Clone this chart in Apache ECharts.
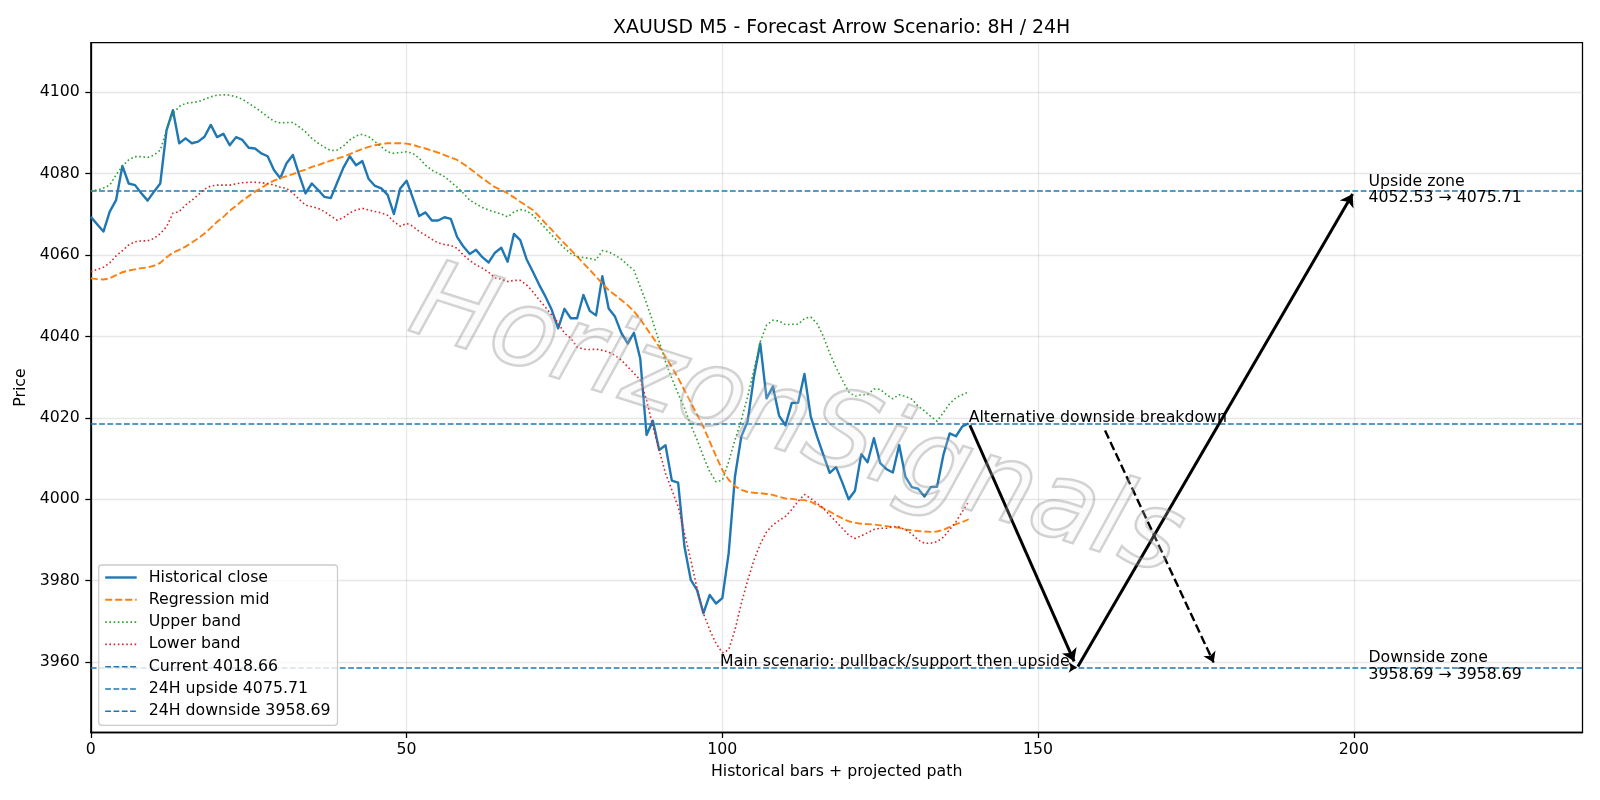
<!DOCTYPE html>
<html>
<head>
<meta charset="utf-8">
<title>XAUUSD M5 - Forecast Arrow Scenario</title>
<script src="https://cdn.jsdelivr.net/npm/echarts@6/dist/echarts.min.js"></script>
<style>
  html, body { margin: 0; padding: 0; background: #fff; }
  #chart { width: 1600px; height: 800px; }
</style>
</head>
<body>
<div id="chart"></div>
<script>
// ---- data (bar index = position in array) ----
const closeValues = [
  4069.4, 4067.6, 4065.8, 4070.7, 4073.5, 4081.9, 4077.6, 4077.2, 4075.2, 4073.4,
  4075.6, 4077.6, 4090.7, 4095.6, 4087.5, 4088.7, 4087.5, 4087.9, 4089.1, 4092.0,
  4089.0, 4089.8, 4087.0, 4089.0, 4088.3, 4086.4, 4086.2, 4085.0, 4084.3, 4080.9,
  4078.9, 4082.6, 4084.6, 4079.7, 4075.2, 4077.6, 4076.0, 4074.3, 4074.0, 4077.8,
  4081.5, 4084.3, 4082.1, 4083.1, 4078.7, 4077.0, 4076.4, 4074.8, 4070.1, 4076.4,
  4078.3, 4074.0, 4069.6, 4070.5, 4068.5, 4068.5, 4069.3, 4068.9, 4064.5, 4062.1,
  4060.3, 4061.3, 4059.5, 4058.2, 4060.6, 4061.8, 4058.4, 4065.2, 4063.7, 4059.0,
  4055.9, 4052.7, 4049.8, 4046.5, 4042.0, 4046.8, 4044.5, 4044.5, 4050.2, 4046.3,
  4045.2, 4054.8, 4046.9, 4044.9, 4040.9, 4038.3, 4040.9, 4034.6, 4015.8, 4019.3,
  4012.1, 4013.3, 4004.6, 4004.1, 3988.4, 3980.2, 3977.7, 3972.0, 3976.5, 3974.4,
  3975.7, 3986.7, 4005.6, 4015.4, 4019.1, 4030.1, 4038.3, 4024.8, 4027.7, 4020.5,
  4018.2, 4023.7, 4023.7, 4030.8, 4020.3, 4015.4, 4010.9, 4006.5, 4007.9, 4004.1,
  4000.0, 4002.1, 4011.1, 4009.1, 4015.0, 4008.9, 4007.4, 4006.6, 4013.3, 4005.5,
  4003.0, 4002.6, 4000.7, 4003.0, 4003.1, 4010.9, 4016.2, 4015.5, 4017.9, 4018.66
]
const midValues = [
  4054.3, 4054.1, 4054.0, 4054.3, 4055.1, 4055.8, 4056.2, 4056.5, 4056.8, 4057.0,
  4057.4, 4058.1, 4059.5, 4060.6, 4061.3, 4062.1, 4063.1, 4064.1, 4065.3, 4066.7,
  4068.2, 4069.4, 4070.9, 4072.1, 4073.4, 4074.5, 4075.6, 4076.5, 4077.5, 4078.3,
  4078.9, 4079.4, 4079.9, 4080.5, 4081.0, 4081.7, 4082.1, 4082.7, 4083.2, 4083.7,
  4084.2, 4084.8, 4085.5, 4086.1, 4086.6, 4087.0, 4087.3, 4087.5, 4087.5, 4087.5,
  4087.4, 4087.1, 4086.6, 4086.2, 4085.7, 4085.2, 4084.6, 4084.0, 4083.4, 4082.4,
  4081.3, 4080.1, 4078.9, 4077.8, 4076.7, 4076.0, 4075.2, 4074.2, 4073.1, 4072.1,
  4071.1, 4069.5, 4067.8, 4066.2, 4064.5, 4062.9, 4061.3, 4059.7, 4058.0, 4056.4,
  4054.7, 4053.0, 4051.4, 4050.2, 4049.0, 4047.7, 4046.2, 4044.3, 4042.0, 4039.8,
  4037.5, 4035.0, 4032.5, 4029.8, 4026.8, 4023.8, 4020.8, 4017.8, 4014.2, 4010.6,
  4007.2, 4004.8, 4003.2, 4002.3, 4001.8, 4001.6, 4001.5, 4001.3, 4001.1, 4000.6,
  4000.2, 4000.1, 3999.9, 3999.8, 3999.4, 3998.6, 3997.8, 3997.0, 3996.1, 3995.3,
  3994.6, 3994.2, 3994.0, 3993.9, 3993.8, 3993.6, 3993.4, 3993.2, 3993.0, 3992.6,
  3992.4, 3992.2, 3992.1, 3992.0, 3992.1, 3992.5, 3993.2, 3993.9, 3994.4, 3995.1
]
const upperValues = [
  4075.8, 4076.0, 4076.5, 4077.2, 4079.7, 4081.9, 4083.4, 4084.2, 4084.2, 4084.0,
  4084.6, 4085.8, 4090.7, 4094.8, 4096.5, 4097.3, 4097.5, 4097.7, 4098.3, 4098.9,
  4099.3, 4099.4, 4099.3, 4098.9, 4098.3, 4097.3, 4096.3, 4095.2, 4094.0, 4092.9,
  4092.5, 4092.6, 4092.6, 4091.5, 4090.3, 4088.7, 4087.5, 4086.5, 4085.7, 4085.8,
  4086.8, 4088.3, 4089.3, 4089.7, 4089.1, 4087.9, 4086.6, 4085.4, 4085.0, 4085.2,
  4085.4, 4085.0, 4083.8, 4082.1, 4080.9, 4080.1, 4079.3, 4078.0, 4076.7, 4075.2,
  4073.5, 4072.6, 4071.7, 4071.1, 4070.6, 4070.1, 4069.4, 4070.6, 4071.2, 4070.9,
  4069.8, 4068.2, 4066.6, 4064.9, 4063.3, 4061.7, 4060.4, 4059.6, 4059.4, 4059.2,
  4058.8, 4061.1, 4060.8, 4060.0, 4059.0, 4057.6, 4056.3, 4052.2, 4048.2, 4043.6,
  4038.7, 4033.8, 4029.7, 4026.0, 4022.4, 4018.3, 4014.6, 4010.5, 4006.8, 4004.3,
  4004.7, 4009.2, 4014.6, 4019.5, 4025.2, 4031.8, 4038.7, 4042.8, 4044.0, 4043.8,
  4042.9, 4043.0, 4043.0, 4044.4, 4044.8, 4043.2, 4040.0, 4035.9, 4032.4, 4029.3,
  4026.4, 4025.3, 4025.7, 4025.7, 4027.1, 4027.0, 4025.7, 4024.7, 4025.7, 4025.3,
  4024.6, 4022.9, 4021.7, 4020.4, 4019.2, 4021.3, 4023.5, 4025.0, 4025.7, 4026.4
]
const lowerValues = [
  4055.9, 4056.5, 4057.0, 4058.1, 4059.8, 4061.1, 4062.5, 4063.3, 4063.5, 4063.5,
  4064.1, 4065.3, 4067.0, 4070.3, 4070.7, 4072.3, 4073.5, 4074.8, 4076.2, 4077.0,
  4077.2, 4077.2, 4077.2, 4077.5, 4077.8, 4077.9, 4077.9, 4077.8, 4077.6, 4077.2,
  4076.7, 4076.4, 4075.2, 4073.7, 4072.3, 4071.9, 4071.5, 4070.7, 4069.6, 4068.6,
  4069.2, 4070.4, 4071.1, 4071.5, 4071.1, 4070.7, 4070.4, 4069.8, 4068.2, 4067.1,
  4067.8, 4067.1, 4065.8, 4064.9, 4063.9, 4063.0, 4062.6, 4062.4, 4061.7, 4060.0,
  4058.7, 4057.6, 4056.8, 4055.8, 4054.4, 4054.1, 4053.5, 4053.8, 4053.8, 4052.7,
  4051.0, 4049.0, 4047.2, 4045.3, 4043.4, 4040.8, 4039.6, 4037.4, 4036.9, 4036.8,
  4036.9, 4036.6, 4036.2, 4035.4, 4034.2, 4032.6, 4031.0, 4029.3, 4024.4, 4017.8,
  4012.1, 4006.4, 4002.3, 3998.2, 3991.7, 3985.1, 3978.1, 3972.0, 3967.9, 3964.6,
  3962.3, 3963.0, 3967.9, 3974.4, 3980.0, 3985.0, 3989.0, 3992.0, 3993.7, 3994.8,
  3995.8, 3997.5, 3999.5, 4001.2, 4000.2, 3999.0, 3997.8, 3996.1, 3994.5, 3992.9,
  3991.2, 3990.4, 3991.0, 3991.8, 3992.6, 3992.9, 3992.9, 3993.3, 3993.2, 3992.5,
  3991.5, 3990.0, 3989.2, 3989.2, 3989.6, 3990.7, 3992.6, 3994.5, 3997.0, 3999.4
]
const currentPrice = 4018.66
const upsideTarget = 4075.71
const upsideFrom = 4052.53
const downsideTarget = 3958.69
const downsideFrom = 3958.69

// projected path as drawn (bar, price): now -> pullback -> upside
const pullbackLeg = [[139.2, 4018.2], [155.7, 3960.2]]
const upsideLeg = [[156.3, 3958.9], [199.8, 4075.0]]
// alternative breakdown arrow (starts under its label)
const altLeg = [[160.6, 4016.9], [177.8, 3959.9]]
// little head at the end of the main scenario label
const mainLabelHead = [[155.3, 3958.69], [156.1, 3958.69]]

const xTicks = [0, 50, 100, 150, 200]
const yTicks = [3960, 3980, 4000, 4020, 4040, 4060, 4080, 4100]

// ---- look ----
const FONT = 'DejaVu Sans'
const FS = 15.75
const C_BLUE = '#1f77b4'
const C_ORANGE = '#ff7f0e'
const C_GREEN = '#2ca02c'
const C_RED = '#d62728'
const GRID_COLOR = 'rgba(176,176,176,0.3)'

const toXY = arr => arr.map((v, i) => [i, v])

function lineSeries (name, values, color, width, dash) {
  return {
    name: name,
    type: 'line',
    data: toXY(values),
    symbol: 'none',
    showSymbol: false,
    silent: true,
    z: 2,
    itemStyle: { color: color },
    lineStyle: { color: color, width: width, type: dash || 'solid', cap: 'butt', join: 'round' },
    emphasis: { disabled: true }
  }
}

// axhline style series: just a markLine, kept as a series for the legend
function hlineSeries (name, value) {
  return {
    name: name,
    type: 'line',
    data: [],
    symbol: 'none',
    z: 2,
    itemStyle: { color: C_BLUE },
    lineStyle: { color: C_BLUE, width: 1.6, type: [5.8, 2.5] },
    markLine: {
      silent: true,
      symbol: 'none',
      animation: false,
      z: 2,
      label: { show: false },
      lineStyle: { color: C_BLUE, width: 1.6, type: [5.8, 2.5] },
      emphasis: { disabled: true },
      data: [{ yAxis: value }]
    }
  }
}

function arrowSeries (legs, width, dash, headSize) {
  return {
    type: 'lines',
    coordinateSystem: 'cartesian2d',
    silent: true,
    z: 5,
    symbol: ['none', 'arrow'],
    symbolSize: headSize,
    lineStyle: { color: '#000', width: width, opacity: 1, type: dash || 'solid', curveness: 0 },
    data: legs.map(p => ({ coords: p }))
  }
}

const chart = echarts.init(document.getElementById('chart'))

const option = {
  animation: false,
  backgroundColor: '#fff',
  textStyle: { fontFamily: FONT },
  title: {
    text: 'XAUUSD M5 - Forecast Arrow Scenario: 8H / 24H',
    left: 836.7,
    top: 14,
    textAlign: 'center',
    textStyle: { fontFamily: FONT, fontSize: 18.9, fontWeight: 'normal', color: '#000' }
  },
  grid: {
    left: 90.8,
    right: 17.5,
    top: 42.7,
    bottom: 67.5,
    show: true,
    borderColor: '#000',
    borderWidth: 1.27,
    backgroundColor: 'transparent'
  },
  legend: {
    orient: 'vertical',
    left: 98.7,
    top: 565,
    z: 30,
    padding: [4.5, 7, 6, 5.3],
    itemWidth: 31.5,
    itemHeight: 16,
    itemGap: 6.3,
    backgroundColor: 'rgba(255,255,255,0.8)',
    borderColor: '#cccccc',
    borderWidth: 1.27,
    borderRadius: 3,
    itemStyle: { opacity: 0 },
    lineStyle: { width: 'inherit' },
    selectedMode: false,
    textStyle: { fontFamily: FONT, fontSize: FS, color: '#000', lineHeight: 16, padding: [0, 0, 0, 7] },
    data: ['Historical close', 'Regression mid', 'Upper band', 'Lower band',
      'Current 4018.66', '24H upside 4075.71', '24H downside 3958.69']
  },
  xAxis: {
    type: 'value',
    min: 0,
    max: 236.2,
    name: 'Historical bars + projected path',
    nameLocation: 'middle',
    nameGap: 31,
    nameTextStyle: { fontFamily: FONT, fontSize: FS, color: '#000' },
    axisLine: { show: true, lineStyle: { color: '#000', width: 1.27 } },
    axisTick: { show: true, length: 5.5, customValues: xTicks, lineStyle: { color: '#000', width: 1.27 } },
    axisLabel: { customValues: xTicks, margin: 9, fontFamily: FONT, fontSize: FS, color: '#000', formatter: v => String(v) },
    splitLine: { show: true, lineStyle: { color: GRID_COLOR, width: 1.27 } }
  },
  yAxis: {
    type: 'value',
    min: 3942.7,
    max: 4112.2,
    name: 'Price',
    nameLocation: 'middle',
    nameGap: 42,
    nameTextStyle: { fontFamily: FONT, fontSize: FS, color: '#000' },
    axisLine: { show: true, lineStyle: { color: '#000', width: 1.27 } },
    axisTick: { show: true, length: 5.5, customValues: yTicks, lineStyle: { color: '#000', width: 1.27 } },
    axisLabel: { customValues: yTicks, margin: 11, fontFamily: FONT, fontSize: FS, color: '#000', formatter: v => String(v) },
    splitLine: { show: true, lineStyle: { color: GRID_COLOR, width: 1.27 } }
  },
  series: [
    lineSeries('Historical close', closeValues, C_BLUE, 2.4),
    lineSeries('Regression mid', midValues, C_ORANGE, 1.9, [7, 3]),
    lineSeries('Upper band', upperValues, C_GREEN, 1.6, [1.6, 2.6]),
    lineSeries('Lower band', lowerValues, C_RED, 1.6, [1.6, 2.6]),
    hlineSeries('Current 4018.66', currentPrice),
    hlineSeries('24H upside 4075.71', upsideTarget),
    hlineSeries('24H downside 3958.69', downsideTarget),
    arrowSeries([pullbackLeg, upsideLeg], 3, null, 12),
    arrowSeries([altLeg], 2.4, [8.8, 3.8], 10),
    arrowSeries([mainLabelHead], 1.3, null, 8)
  ]
}

chart.setOption(option)

// annotation texts, placed through the grid's own coordinate conversion
function placeTexts () {
  const px = p => chart.convertToPixel({ gridIndex: 0 }, p)
  const txt = (p, text, align, dy) => ({
    type: 'text',
    x: p[0],
    y: p[1] + dy,
    silent: true,
    z: 10,
    style: {
      text: text,
      fontFamily: FONT,
      fontSize: FS,
      lineHeight: 16.3,
      fill: '#000',
      align: align,
      verticalAlign: 'middle'
    }
  })
  chart.setOption({
    graphic: [
      txt(px([139, currentPrice]), 'Alternative downside breakdown', 'left', -5.5),
      txt(px([155, downsideTarget]), 'Main scenario: pullback/support then upside', 'right', -5.5),
      txt(px([202.3, upsideTarget]), 'Upside zone\n' + upsideFrom.toFixed(2) + ' → ' + upsideTarget.toFixed(2), 'left', -1),
      txt(px([202.3, downsideTarget]), 'Downside zone\n' + downsideFrom.toFixed(2) + ' → ' + downsideTarget.toFixed(2), 'left', -1),
      {
        // watermark
        type: 'text',
        x: 796,
        y: 425,
        rotation: -0.31,
        silent: true,
        z: 20,
        style: {
          text: 'HorizonSignals',
          fontFamily: FONT,
          fontStyle: 'italic',
          fontWeight: 'normal',
          fontSize: 108,
          fill: 'rgba(235,235,235,0.2)',
          stroke: 'rgba(110,110,110,0.32)',
          lineWidth: 2.5,
          align: 'center',
          verticalAlign: 'middle'
        }
      }
    ]
  })
}
placeTexts()
</script>
</body>
</html>
